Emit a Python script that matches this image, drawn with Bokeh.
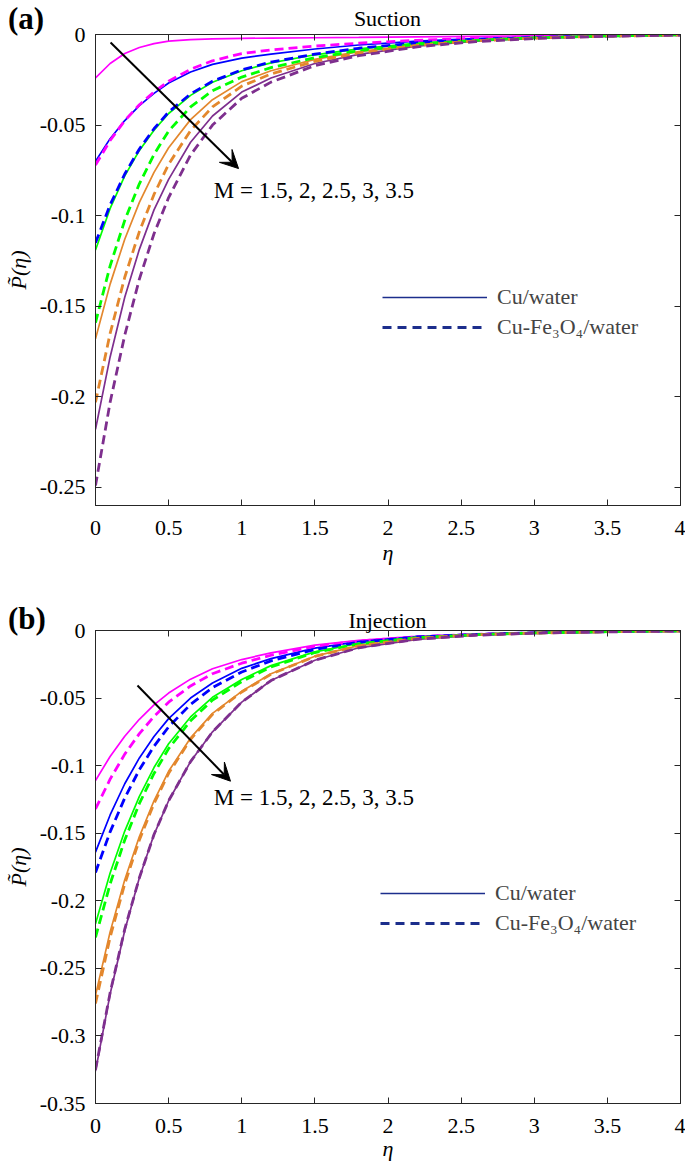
from bokeh.plotting import figure
from bokeh.models import (Range1d, LinearAxis, FixedTicker, NumeralTickFormatter,
                          CustomJSTickFormatter, Label, Arrow, VeeHead, Legend, LegendItem, Div)
from bokeh.layouts import column
from bokeh.embed import file_html
from bokeh.resources import INLINE

# ---------------- data ----------------
ETA = [0, 0.1, 0.2, 0.3, 0.4, 0.5, 0.65, 0.8, 1.0, 1.2, 1.5, 1.8, 2.2, 2.6, 3.0, 3.5, 4.0]
M_VALUES = [1.5, 2, 2.5, 3, 3.5]
X_TICKS = [0, 0.5, 1, 1.5, 2, 2.5, 3, 3.5, 4]
Y_TICKS_A = [-0.25, -0.2, -0.15, -0.1, -0.05, 0]
Y_TICKS_B = [-0.35, -0.3, -0.25, -0.2, -0.15, -0.1, -0.05, 0]

# (a) Suction : Cu/water (solid) and Cu-Fe3O4/water (dashed)
SUC_CU_15 = [-0.024, -0.0160, -0.0105, -0.0072, -0.0050, -0.0037, -0.0028, -0.0024, -0.0021, -0.0020, -0.0018, -0.0016, -0.0013, -0.0010, -0.0007, -0.0004, -0.0001]
SUC_HY_15 = [-0.072, -0.0585, -0.0475, -0.0388, -0.0317, -0.0258, -0.0192, -0.0145, -0.0105, -0.0085, -0.0064, -0.0048, -0.0032, -0.0021, -0.0013, -0.0006, -0.0002]
SUC_CU_20 = [-0.070, -0.0575, -0.0475, -0.0393, -0.0325, -0.0268, -0.0207, -0.0165, -0.0130, -0.0108, -0.0080, -0.0058, -0.0037, -0.0023, -0.0014, -0.0007, -0.0002]
SUC_HY_20 = [-0.115, -0.0940, -0.0770, -0.0632, -0.0520, -0.0428, -0.0328, -0.0258, -0.0195, -0.0152, -0.0108, -0.0076, -0.0046, -0.0028, -0.0016, -0.0008, -0.0002]
SUC_CU_25 = [-0.119, -0.0960, -0.0780, -0.0640, -0.0528, -0.0436, -0.0336, -0.0264, -0.0200, -0.0157, -0.0112, -0.0079, -0.0048, -0.0029, -0.0017, -0.0008, -0.0002]
SUC_HY_25 = [-0.159, -0.1277, -0.1026, -0.0824, -0.0662, -0.0533, -0.0400, -0.0310, -0.0235, -0.0183, -0.0128, -0.0090, -0.0054, -0.0032, -0.0018, -0.0008, -0.0002]
SUC_CU_30 = [-0.168, -0.1378, -0.1130, -0.0927, -0.0761, -0.0625, -0.0470, -0.0360, -0.0260, -0.0200, -0.0137, -0.0095, -0.0057, -0.0034, -0.0019, -0.0009, -0.0003]
SUC_HY_30 = [-0.203, -0.1650, -0.1340, -0.1088, -0.0883, -0.0716, -0.0530, -0.0400, -0.0285, -0.0218, -0.0148, -0.0102, -0.0060, -0.0035, -0.0020, -0.0009, -0.0003]
SUC_CU_35 = [-0.218, -0.1780, -0.1450, -0.1186, -0.0968, -0.0800, -0.0595, -0.0450, -0.0318, -0.0240, -0.0160, -0.0110, -0.0064, -0.0037, -0.0021, -0.0010, -0.0003]
SUC_HY_35 = [-0.249, -0.2030, -0.1660, -0.1350, -0.1100, -0.0900, -0.0665, -0.0500, -0.0352, -0.0263, -0.0172, -0.0117, -0.0068, -0.0039, -0.0022, -0.0010, -0.0003]

# (b) Injection
INJ_CU_15 = [-0.111, -0.0932, -0.0782, -0.0657, -0.0551, -0.0463, -0.0360, -0.0283, -0.0215, -0.0165, -0.0108, -0.0072, -0.0043, -0.0027, -0.0016, -0.0008, -0.0003]
INJ_HY_15 = [-0.132, -0.1100, -0.0915, -0.0763, -0.0636, -0.0530, -0.0410, -0.0320, -0.0242, -0.0183, -0.0118, -0.0078, -0.0046, -0.0028, -0.0017, -0.0008, -0.0003]
INJ_CU_20 = [-0.164, -0.1365, -0.1134, -0.0943, -0.0784, -0.0652, -0.0500, -0.0388, -0.0280, -0.0208, -0.0130, -0.0082, -0.0046, -0.0028, -0.0017, -0.0008, -0.0003]
INJ_HY_20 = [-0.179, -0.1490, -0.1240, -0.1030, -0.0857, -0.0713, -0.0547, -0.0423, -0.0307, -0.0225, -0.0140, -0.0087, -0.0048, -0.0029, -0.0017, -0.0008, -0.0003]
INJ_CU_25 = [-0.217, -0.1795, -0.1484, -0.1227, -0.1014, -0.0838, -0.0640, -0.0494, -0.0362, -0.0260, -0.0158, -0.0096, -0.0052, -0.0030, -0.0018, -0.0009, -0.0003]
INJ_HY_25 = [-0.227, -0.1875, -0.1550, -0.1280, -0.1058, -0.0874, -0.0668, -0.0515, -0.0378, -0.0270, -0.0163, -0.0099, -0.0053, -0.0031, -0.0018, -0.0009, -0.0003]
INJ_CU_30 = [-0.270, -0.2230, -0.1845, -0.1525, -0.1260, -0.1042, -0.0795, -0.0613, -0.0450, -0.0320, -0.0190, -0.0112, -0.0058, -0.0032, -0.0019, -0.0009, -0.0004]
INJ_HY_30 = [-0.276, -0.2270, -0.1875, -0.1550, -0.1280, -0.1057, -0.0805, -0.0620, -0.0455, -0.0323, -0.0192, -0.0113, -0.0058, -0.0032, -0.0019, -0.0009, -0.0004]
INJ_CU_35 = [-0.326, -0.2690, -0.2220, -0.1830, -0.1510, -0.1260, -0.0970, -0.0750, -0.0530, -0.0370, -0.0220, -0.0128, -0.0065, -0.0035, -0.0020, -0.0010, -0.0004]
INJ_HY_35 = [-0.325, -0.2680, -0.2210, -0.1830, -0.1510, -0.1260, -0.0970, -0.0750, -0.0530, -0.0370, -0.0220, -0.0128, -0.0065, -0.0035, -0.0020, -0.0010, -0.0004]

SUCTION_CU = [SUC_CU_15, SUC_CU_20, SUC_CU_25, SUC_CU_30, SUC_CU_35]
SUCTION_HY = [SUC_HY_15, SUC_HY_20, SUC_HY_25, SUC_HY_30, SUC_HY_35]
INJECTION_CU = [INJ_CU_15, INJ_CU_20, INJ_CU_25, INJ_CU_30, INJ_CU_35]
INJECTION_HY = [INJ_HY_15, INJ_HY_20, INJ_HY_25, INJ_HY_30, INJ_HY_35]

# ---------------- style ----------------
COLORS = ["#FF00FF", "#0000FF", "#00FF00", "#E3872D", "#7E2F8E"]
NAVY = "#1C2E8C"
AX = "#262626"
FONT = "Liberation Serif"
FS = "22px"
M_TEXT = "M = " + ", ".join(f"{m:g}" for m in M_VALUES)
W = 685


def header(tag, title, height, tag_top, title_top):
    html = (
        f'<div style="position:relative;width:{W}px;height:{height}px;overflow:visible;'
        f"font-family:'{FONT}',serif;color:#000;\">"
        f'<span style="position:absolute;left:8px;top:{tag_top}px;font-size:31px;'
        f'line-height:30px;font-weight:bold;white-space:nowrap;">{tag}</span>'
        f'<span style="position:absolute;left:95px;width:585px;top:{title_top}px;'
        f'font-size:22px;line-height:22px;text-align:center;white-space:nowrap;">{title}</span>'
        f'</div>'
    )
    return Div(text=html, width=W, height=height, margin=0,
               styles={"position": "relative", "z-index": "5", "overflow": "visible"})


def panel(cu, hy, ymin, yticks, height, bottom, xlabel_standoff,
          arrow_pts, mtext_pos, legend_loc):
    p = figure(width=W, height=height, x_range=Range1d(0, 4), y_range=Range1d(ymin, 0),
               output_backend="svg", toolbar_location=None,
               min_border_left=95, min_border_right=5, min_border_top=14, min_border_bottom=bottom,
               background_fill_color="white", border_fill_color="white", border_fill_alpha=0,
               outline_line_color=AX, outline_line_width=1)
    p.grid.visible = False

    xa = p.below[0]
    ya = p.left[0]
    xa.ticker = FixedTicker(ticks=X_TICKS)
    ya.ticker = FixedTicker(ticks=yticks)
    for ax in (xa, ya):
        ax.formatter = NumeralTickFormatter(format="0.[00]")
        ax.axis_line_color = AX
        ax.major_tick_line_color = AX
        ax.major_tick_in = 6
        ax.major_tick_out = 0
        ax.minor_tick_line_color = None
        ax.major_label_text_font = FONT
        ax.major_label_text_font_size = FS
        ax.major_label_text_color = "black"
        ax.axis_label_text_font = FONT
        ax.axis_label_text_font_size = FS
        ax.axis_label_text_font_style = "italic"
        ax.axis_label_text_color = "black"
    xa.major_label_standoff = 15
    ya.major_label_standoff = 10
    ya.axis_label = "P\u0303(\u03b7)"
    ya.axis_label_standoff = 6
    xa.axis_label = "\u03b7"
    xa.axis_label_standoff = xlabel_standoff

    blank = CustomJSTickFormatter(code="return ''")
    top_ax = LinearAxis(ticker=FixedTicker(ticks=X_TICKS), formatter=blank,
                        major_label_text_font_size="1px",
                        major_label_standoff=0, major_tick_in=6, major_tick_out=0,
                        minor_tick_line_color=None, axis_line_color=AX, major_tick_line_color=AX)
    right_ax = LinearAxis(ticker=FixedTicker(ticks=yticks), formatter=blank,
                          major_label_text_font_size="1px",
                          major_label_standoff=0, major_tick_in=6, major_tick_out=0,
                          minor_tick_line_color=None, axis_line_color=AX, major_tick_line_color=AX)
    p.add_layout(top_ax, "above")
    p.add_layout(right_ax, "right")

    for ys, c in zip(cu, COLORS):
        p.line(ETA, ys, line_color=c, line_width=1.7)
    for ys, c in zip(hy, COLORS):
        p.line(ETA, ys, line_color=c, line_width=2.8, line_dash="9 5")

    # legend (proxy renderers, nothing visible in the frame)
    nan = float("nan")
    r1 = p.line([nan], [nan], line_color=NAVY, line_width=1.7)
    r2 = p.line([nan], [nan], line_color=NAVY, line_width=2.8, line_dash="9 6")
    leg = Legend(items=[LegendItem(label="Cu/water", renderers=[r1]),
                        LegendItem(label="Cu-Fe\u2083O\u2084/water", renderers=[r2])],
                 location=legend_loc, glyph_width=105, glyph_height=24, label_height=24,
                 spacing=4, padding=0, margin=0, border_line_color=None,
                 background_fill_alpha=0, label_text_font=FONT, label_text_font_size=FS,
                 label_standoff=10)
    p.add_layout(leg)

    # arrow and M label
    x0, y0, x1, y1 = arrow_pts
    p.add_layout(Arrow(end=VeeHead(size=18, fill_color="black", line_color="black"),
                       x_start=x0, y_start=y0, x_end=x1, y_end=y1,
                       line_color="black", line_width=2))
    p.add_layout(Label(x=mtext_pos[0], y=mtext_pos[1], text=M_TEXT, text_font=FONT,
                       text_font_size="23px", text_align="left", text_baseline="middle",
                       text_color="black"))
    return p


head_a = header("(a)", "Suction", 20, 4, 8)
pa = panel(SUCTION_CU, SUCTION_HY, -0.26, Y_TICKS_A, 580, 95, 2,
           (0.103, -0.0044, 0.978, -0.074), (0.809, -0.0859), (287, 165))
head_b = header("(b)", "Injection", 16, 4, 10)
pb = panel(INJECTION_CU, INJECTION_HY, -0.35, Y_TICKS_B, 553, 66, 0,
           (0.287, -0.0407, 0.923, -0.1115), (0.809, -0.1235), (285, 167))

layout = column(head_a, pa, head_b, pb, spacing=0)
open("out.html", "w").write(file_html(layout, INLINE))
